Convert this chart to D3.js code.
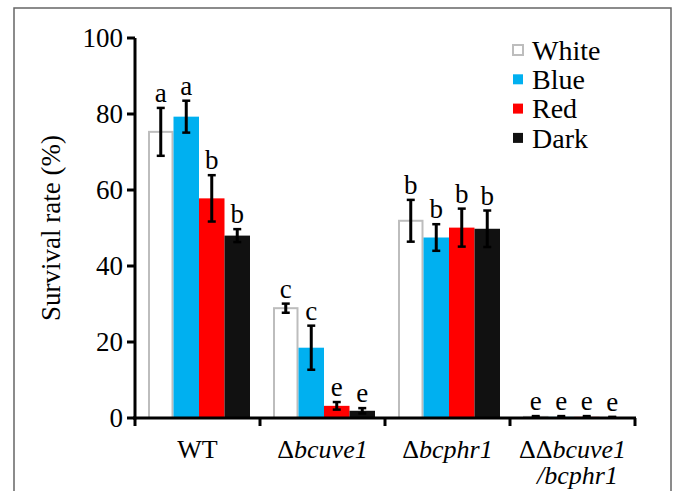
<!DOCTYPE html>
<html>
<head>
<meta charset="utf-8">
<script src="https://cdn.jsdelivr.net/npm/d3@7"></script>
<style>
  svg text { font-family: "Liberation Serif", Tinos, "Times New Roman", serif; }
</style>
</head>
<body style="margin:0">
<script>
const categories = ["WT", "bcuve1", "bcphr1", "bcuve1/bcphr1"];
const series = ["White", "Blue", "Red", "Dark"];
const colors = ["#ffffff", "#00b0f0", "#ff0000", "#111111"];

const whiteVals = [75.3, 28.9, 51.9, 0.3];
const blueVals = [79.3, 18.5, 47.5, 0.3];
const redVals = [57.8, 3.2, 50.1, 0.3];
const darkVals = [48.0, 1.9, 49.8, 0.2];

const whiteErr = [6.3, 1.2, 5.5, 0.2];
const blueErr = [4.2, 5.8, 3.5, 0.2];
const redErr = [6.1, 1.0, 5.0, 0.2];
const darkErr = [1.7, 0.7, 4.8, 0.1];

const letters = [
    ["a", "a", "b", "b"],
    ["c", "c", "e", "e"],
    ["b", "b", "b", "b"],
    ["e", "e", "e", "e"]
];

const yTicks = [0, 20, 40, 60, 80, 100];

const width = 673;
const height = 491;

const svg = d3.select("body")
    .append("svg")
    .attr("width", width)
    .attr("height", height)
    .attr("font-family", "Liberation Serif, Tinos, Times New Roman, serif");

function txt(size) {
    return svg.append("text")
        .attr("font-family", "Liberation Serif, Tinos, Times New Roman, serif")
        .attr("font-size", size);
}

// frame
svg.append("rect")
    .attr("x", 14)
    .attr("y", 8)
    .attr("width", 657)
    .attr("height", 500)
    .attr("fill", "none")
    .attr("stroke", "#666")
    .attr("stroke-width", 1.5);

const x0 = d3.scaleBand().domain(categories).range([135, 635]);
const x1 = d3.scaleBand().domain(series).range([13, 115]);
const y = d3.scaleLinear().domain([0, 100]).range([418, 38]);

const allVals = [whiteVals, blueVals, redVals, darkVals];
const allErr = [whiteErr, blueErr, redErr, darkErr];

const rows = [];
categories.forEach((c, ci) => {
    series.forEach((s, si) => {
        rows.push({ cat: c, ser: s, si: si, v: allVals[si][ci], e: allErr[si][ci], l: letters[ci][si] });
    });
});

// bars
svg.selectAll("rect.bar")
    .data(rows)
    .enter().append("rect")
    .attr("class", "bar")
    .attr("x", d => x0(d.cat) + x1(d.ser) + (d.si === 0 ? 1 : 0))
    .attr("y", d => y(d.v))
    .attr("width", d => x1.bandwidth() - (d.si === 0 ? 2 : 0))
    .attr("height", d => y(0) - y(d.v))
    .attr("fill", d => colors[d.si])
    .attr("stroke", d => d.si === 0 ? "#bdbdbd" : "none")
    .attr("stroke-width", 2);

// error bars and letters
rows.forEach(d => {
    const cx = x0(d.cat) + x1(d.ser) + x1.bandwidth() / 2;
    const top = y(d.v + d.e);
    const bot = y(Math.max(0, d.v - d.e));
    svg.append("line").attr("x1", cx).attr("x2", cx).attr("y1", top).attr("y2", bot)
        .attr("stroke", "#000").attr("stroke-width", 3);
    [top, bot].forEach(yy => {
        svg.append("line").attr("x1", cx - 4).attr("x2", cx + 4).attr("y1", yy).attr("y2", yy)
            .attr("stroke", "#000").attr("stroke-width", 2.5);
    });
    txt(27).attr("x", cx).attr("y", top - 6)
        .attr("text-anchor", "middle")
        .text(d.l);
});

// y axis from the scale
svg.append("line")
    .attr("x1", 135).attr("x2", 135)
    .attr("y1", y(100)).attr("y2", y(0) + 1.5)
    .attr("stroke", "#000").attr("stroke-width", 3);
yTicks.forEach(t => {
    svg.append("line")
        .attr("x1", 127).attr("x2", 135)
        .attr("y1", y(t)).attr("y2", y(t))
        .attr("stroke", "#000").attr("stroke-width", 3);
    txt(27).attr("x", 123).attr("y", y(t)).attr("dy", "0.33em")
        .attr("text-anchor", "end").text(t);
});

// x axis
svg.append("line")
    .attr("x1", 133).attr("x2", 636)
    .attr("y1", y(0)).attr("y2", y(0))
    .attr("stroke", "#000").attr("stroke-width", 3);
const bounds = categories.map(c => x0(c)).concat([x0.range()[1]]);
bounds.forEach(b => {
    svg.append("line")
        .attr("x1", b).attr("x2", b)
        .attr("y1", y(0)).attr("y2", y(0) + 8)
        .attr("stroke", "#000").attr("stroke-width", 3);
});

// category labels
const labelX = c => x0(c) + x0.bandwidth() / 2;
txt(26).attr("x", labelX("WT")).attr("y", 458)
    .attr("text-anchor", "middle").text("WT");

function deltaLabel(cat, deltas, name, yy) {
    const t = txt(26).attr("x", labelX(cat)).attr("y", yy)
        .attr("text-anchor", "middle");
    t.append("tspan").text(deltas);
    t.append("tspan").attr("font-style", "italic").text(name);
}
deltaLabel("bcuve1", "Δ", "bcuve1", 458);
deltaLabel("bcphr1", "Δ", "bcphr1", 458);
deltaLabel("bcuve1/bcphr1", "ΔΔ", "bcuve1", 458);
txt(26).attr("x", labelX("bcuve1/bcphr1") + 5).attr("y", 484)
    .attr("text-anchor", "middle")
    .attr("font-style", "italic")
    .text("/bcphr1");

// y label
txt(27).attr("transform", "translate(60,228) rotate(-90)")
    .attr("text-anchor", "middle")
    .text("Survival rate (%)");

// legend
series.forEach((s, i) => {
    const ly = 50 + i * 29.3;
    svg.append("rect")
        .attr("x", 513).attr("y", ly - 5)
        .attr("width", 10).attr("height", 10)
        .attr("fill", colors[i])
        .attr("stroke", i === 0 ? "#bdbdbd" : "none")
        .attr("stroke-width", 2);
    txt(28).attr("x", 532).attr("y", ly)
        .attr("dy", "0.35em")
        .text(s);
});
</script>
</body>
</html>
